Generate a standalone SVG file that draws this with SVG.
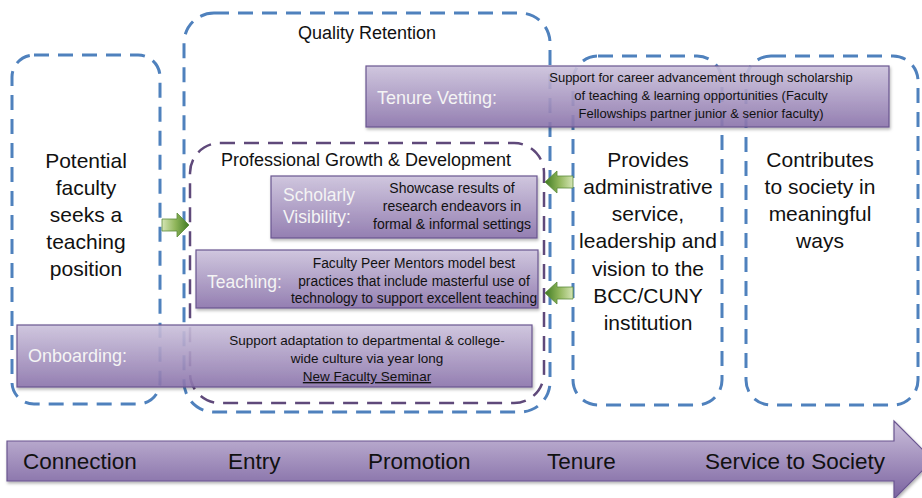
<svg xmlns="http://www.w3.org/2000/svg" width="922" height="498" viewBox="0 0 922 498">
<defs>
<linearGradient id="pg" x1="0" y1="0" x2="0" y2="1">
<stop offset="0" stop-color="#cec4de"/>
<stop offset="1" stop-color="#8c74ad"/>
</linearGradient>
<linearGradient id="ag" x1="0" y1="0" x2="0" y2="1">
<stop offset="0" stop-color="#cbbfdb"/>
<stop offset="1" stop-color="#7b63a0"/>
</linearGradient>
<linearGradient id="gr" x1="0" y1="0" x2="1" y2="0">
<stop offset="0" stop-color="#d5e5b5"/>
<stop offset="0.5" stop-color="#8fb55a"/>
<stop offset="1" stop-color="#3f7a22"/>
</linearGradient>
<linearGradient id="gl" x1="1" y1="0" x2="0" y2="0">
<stop offset="0" stop-color="#d5e5b5"/>
<stop offset="0.5" stop-color="#8fb55a"/>
<stop offset="1" stop-color="#3f7a22"/>
</linearGradient>
<filter id="sh" x="-5%" y="-5%" width="110%" height="120%">
<feDropShadow dx="1" dy="2" stdDeviation="1.5" flood-color="#000" flood-opacity="0.3"/>
</filter>
<style>
.bd{fill:none;stroke:#4f81bd;stroke-width:3;stroke-dasharray:15 9}
.pd{fill:none;stroke:#5f497a;stroke-width:2.5;stroke-dasharray:15 9}
.pb{fill:url(#pg);fill-opacity:0.88;stroke:#6a5590;stroke-width:1.2}
.t{font-family:"Liberation Sans",Arial,sans-serif;fill:#111}
.w{font-family:"Liberation Sans",Arial,sans-serif;fill:#f4f4f4}
.c{text-anchor:middle}
</style>
</defs>

<g id="connection-box">
<rect class="bd" x="12" y="55" width="148" height="349" rx="22"/>
<text class="t c" font-size="21" x="86"><tspan x="86" y="168">Potential</tspan><tspan x="86" y="195">faculty</tspan><tspan x="86" y="222">seeks a</tspan><tspan x="86" y="249">teaching</tspan><tspan x="86" y="276">position</tspan></text>
</g>

<g id="quality-retention">
<rect class="bd" x="184" y="13" width="366" height="399" rx="30"/>
<text class="t c" font-size="18" x="367" y="39">Quality Retention</text>
</g>

<g id="tenure-box">
<rect class="bd" x="573" y="56" width="149" height="349" rx="25"/>
<text class="t c" font-size="21"><tspan x="648" y="167">Provides</tspan><tspan x="648" y="194">administrative</tspan><tspan x="648" y="221">service,</tspan><tspan x="648" y="248">leadership and</tspan><tspan x="648" y="276">vision to the</tspan><tspan x="648" y="303">BCC/CUNY</tspan><tspan x="648" y="330">institution</tspan></text>
</g>

<g id="society-box">
<rect class="bd" x="746" y="56" width="172" height="349" rx="25"/>
<text class="t c" font-size="21"><tspan x="820" y="167">Contributes</tspan><tspan x="820" y="194">to society in</tspan><tspan x="820" y="221">meaningful</tspan><tspan x="820" y="248">ways</tspan></text>
</g>

<g id="professional-growth">
<rect class="pd" x="190" y="143" width="354" height="260" rx="30"/>
<text class="t c" font-size="18" x="366" y="166">Professional Growth &amp; Development</text>
</g>

<g id="tenure-vetting">
<rect class="pb" x="366" y="66" width="523" height="61" filter="url(#sh)"/>
<text class="w" font-size="18" x="377" y="104">Tenure Vetting:</text>
<text class="t c" font-size="13"><tspan x="701" y="82">Support for career advancement through scholarship</tspan><tspan x="701" y="100">of teaching &amp; learning opportunities (Faculty</tspan><tspan x="701" y="118">Fellowships partner junior &amp; senior faculty)</tspan></text>
</g>

<g id="scholarly-visibility">
<rect class="pb" x="271" y="176" width="266" height="62" filter="url(#sh)"/>
<text class="w" font-size="17.5"><tspan x="283" y="201">Scholarly</tspan><tspan x="283" y="223">Visibility:</tspan></text>
<text class="t c" font-size="14"><tspan x="452" y="193">Showcase results of</tspan><tspan x="452" y="211">research endeavors in</tspan><tspan x="452" y="229">formal &amp; informal settings</tspan></text>
</g>

<g id="teaching">
<rect class="pb" x="196" y="250" width="342" height="58" filter="url(#sh)"/>
<text class="w" font-size="17.5" x="207" y="288">Teaching:</text>
<text class="t c" font-size="13.8"><tspan x="414" y="268">Faculty Peer Mentors model best</tspan><tspan x="414" y="286">practices that include masterful use of</tspan><tspan x="414" y="303">technology to support excellent teaching</tspan></text>
</g>

<g id="onboarding">
<rect class="pb" x="17" y="325" width="515" height="62" filter="url(#sh)"/>
<text class="w" font-size="18" x="28" y="362">Onboarding:</text>
<text class="t c" font-size="13.5"><tspan x="367" y="345">Support adaptation to departmental &amp; college-</tspan><tspan x="367" y="363">wide culture via year long</tspan><tspan x="367" y="381" text-decoration="underline">New Faculty Seminar</tspan></text>
</g>

<g id="connectors">
<polygon points="162,219 177,219 177,213 189,225 177,237 177,231 162,231" fill="url(#gr)" stroke="#5a8a3a" stroke-width="0.8"/>
<polygon points="573,176 557,176 557,171 545,182 557,193 557,188 573,188" fill="url(#gl)" stroke="#5a8a3a" stroke-width="0.8"/>
<polygon points="573,287 557,287 557,282 545,293 557,304 557,299 573,299" fill="url(#gl)" stroke="#5a8a3a" stroke-width="0.8"/>
</g>

<g id="timeline">
<path d="M7,441 L894,441 L894,421 L933,460 L894,499 L894,481 L7,481 Z" fill="url(#ag)" stroke="#6a5590" stroke-width="1.2" filter="url(#sh)"/>
<text class="t" font-size="22.5" fill="#1a1a1a"><tspan x="23" y="469">Connection</tspan><tspan x="228" y="469">Entry</tspan><tspan x="368" y="469">Promotion</tspan><tspan x="547" y="469">Tenure</tspan><tspan x="705" y="469">Service to Society</tspan></text>
</g>
</svg>
